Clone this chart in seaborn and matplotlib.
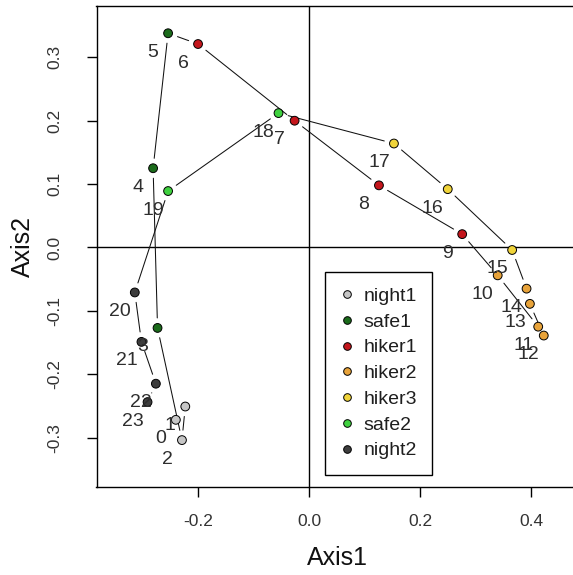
import matplotlib
matplotlib.use("Agg")

import numpy as np
import pandas as pd
import matplotlib.pyplot as plt
from matplotlib.lines import Line2D
import seaborn as sns

# ordination scores, one point per sample 0..23
sample = [str(i) for i in range(24)]
axis1 = [-0.240, -0.223, -0.229, -0.273, -0.281, -0.254, -0.200, -0.026,
         0.126, 0.276, 0.340, 0.413, 0.423, 0.398, 0.392, 0.366,
         0.250, 0.153, -0.055, -0.254, -0.314, -0.302, -0.276, -0.291]
axis2 = [-0.272, -0.251, -0.304, -0.127, 0.125, 0.338, 0.321, 0.200,
         0.098, 0.021, -0.044, -0.125, -0.139, -0.089, -0.065, -0.004,
         0.092, 0.164, 0.212, 0.089, -0.071, -0.149, -0.215, -0.244]
group = (["night1"] * 3 + ["safe1"] * 3 + ["hiker1"] * 4 + ["hiker2"] * 5
         + ["hiker3"] * 3 + ["safe2"] * 2 + ["night2"] * 4)

group_order = ["night1", "safe1", "hiker1", "hiker2", "hiker3", "safe2", "night2"]
group_colors = ["#c6c6c6", "#1b6b1b", "#c4161c", "#e8a33a", "#f0d43a", "#3fd13f", "#3d3d3d"]

x_ticks = [-0.2, 0.0, 0.2, 0.4]
x_tick_labels = ["-0.2", "0.0", "0.2", "0.4"]
y_ticks = [-0.3, -0.2, -0.1, 0.0, 0.1, 0.2, 0.3]
y_tick_labels = ["-0.3", "-0.2", "-0.1", "0.0", "0.1", "0.2", "0.3"]

df = pd.DataFrame({"sample": sample, "Axis1": axis1, "Axis2": axis2, "group": group})
palette = dict(zip(group_order, group_colors))

sns.set_style("ticks")
plt.rcParams["font.family"] = ["Liberation Sans", "DejaVu Sans"]
plt.rcParams["axes.unicode_minus"] = False

fig = plt.figure(figsize=(5.73, 5.75), dpi=100)
ax = fig.add_axes([96.5 / 573, 88 / 575, 481.5 / 573, 481 / 575])
ax.set_xlim(-0.383, 0.4847)
ax.set_ylim(-0.378, 0.381)

# reference lines through the origin
ax.axhline(0, color="black", lw=1.0, zorder=1)
ax.axvline(0, color="black", lw=1.0, zorder=1)

# path through the samples in order, with a gap round each point (R type="b")
pts = ax.transData.transform(df[["Axis1", "Axis2"]].to_numpy())
inv = ax.transData.inverted()
gap = 10
for i in range(len(pts) - 1):
    p, q = pts[i], pts[i + 1]
    d = q - p
    dist = np.hypot(d[0], d[1])
    if dist <= 2 * gap:
        continue
    u = d / dist
    seg = inv.transform(np.array([p + u * gap, q - u * gap]))
    ax.plot(seg[:, 0], seg[:, 1], color="#111111", lw=0.75, zorder=2)

sns.scatterplot(data=df, x="Axis1", y="Axis2", hue="group", hue_order=group_order,
                palette=palette, s=40, edgecolor="black", linewidth=0.7,
                legend=False, zorder=3, ax=ax)

for _, r in df.iterrows():
    ax.text(r["Axis1"] - 0.027, r["Axis2"] - 0.030, r["sample"], fontsize=14,
            color="#2e2e2e", ha="center", va="center", zorder=4)

handles = [Line2D([], [], marker="o", linestyle="none", markersize=5.5,
                  markerfacecolor=c, markeredgecolor="black", markeredgewidth=0.7)
           for c in group_colors]
leg = ax.legend(handles, group_order, loc="upper left",
                bbox_to_anchor=((325 - 96.5) / 481.5, (487 - 272) / 481),
                borderaxespad=0, fontsize=14, frameon=True, fancybox=False,
                framealpha=1, edgecolor="black", handlelength=0.7,
                handletextpad=0.5, borderpad=0.78, labelspacing=0.42)
leg.get_frame().set_linewidth(1.0)
for t in leg.get_texts():
    t.set_color("#1e1e1e")

for side in ["top", "bottom", "left", "right"]:
    ax.spines[side].set_visible(True)
    ax.spines[side].set_color("black")
    ax.spines[side].set_linewidth(1.0)

ax.set_xticks(x_ticks)
ax.set_xticklabels(x_tick_labels)
ax.set_yticks(y_ticks)
ax.set_yticklabels(y_tick_labels, rotation=90, va="center")
ax.tick_params(axis="both", length=7.5, width=1.0, color="black",
               labelsize=12.5, labelcolor="#333333")
ax.tick_params(axis="x", pad=12)
ax.tick_params(axis="y", pad=17)

ax.set_xlabel("Axis1", fontsize=18, labelpad=12, color="#111111")
ax.set_ylabel("Axis2", fontsize=18, labelpad=9, color="#111111")

fig.savefig("out.png", dpi=100)
plt.close(fig)
